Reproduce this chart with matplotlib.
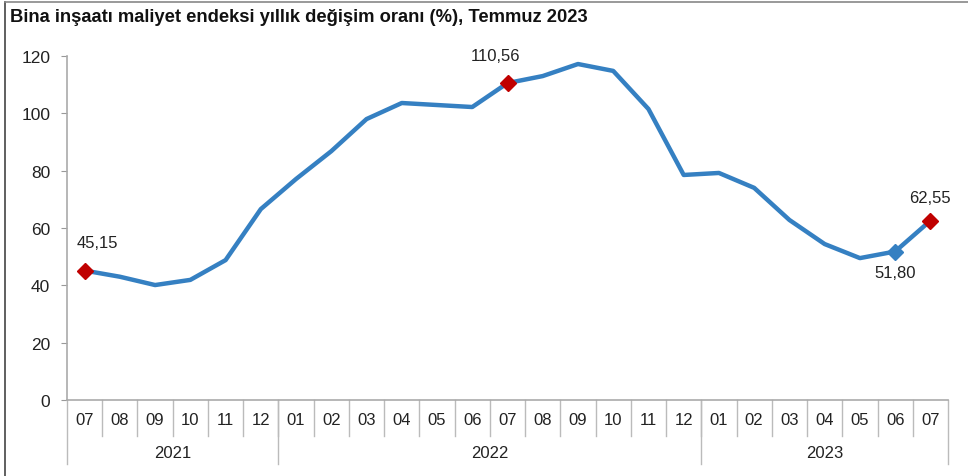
import numpy as np
import matplotlib.pyplot as plt
import matplotlib
import matplotlib.transforms as mtransforms

matplotlib.rc('font', family='Liberation Sans')

# Data
months = ['07', '08', '09', '10', '11', '12',
          '01', '02', '03', '04', '05', '06', '07', '08', '09', '10', '11', '12',
          '01', '02', '03', '04', '05', '06', '07']
years = ['2021', '2022', '2023']
year_counts = [6, 12, 7]
values = [45.15, 43.0, 40.1, 41.9, 48.8, 66.6,
          77.1, 86.8, 98.0, 103.6, 102.9, 102.2, 110.56, 113.0, 117.2, 114.8, 101.5, 78.5,
          79.2, 74.0, 62.8, 54.4, 49.5, 51.80, 62.55]
red_idx = [0, 12, 24]
blue_idx = [23]
label_text = {0: '45,15', 12: '110,56', 23: '51,80', 24: '62,55'}
label_off = {0: (9, 20), 12: (-9, 20), 23: (0, -15), 24: (0, 17)}

fig = plt.figure(figsize=(9.68, 4.77), dpi=100)
W, H = 968, 477
ax = fig.add_axes([67 / W, 1 - 401 / H, (948 - 67) / W, (401 - 57) / H])

x = np.arange(len(values))
line_col = '#3580c2'
ax.plot(x, values, color=line_col, lw=3.2, solid_joinstyle='round', zorder=2)
ax.plot(x[red_idx], [values[i] for i in red_idx], 'D', color='#c00000',
        ms=8, zorder=3)
ax.plot(x[blue_idx], [values[i] for i in blue_idx], 'D', color=line_col,
        ms=8, zorder=3)
for i, t in label_text.items():
    dx, dy = label_off[i]
    ax.annotate(t, (x[i], values[i]), xytext=(dx, dy), textcoords='offset points',
                ha='center', va='center', fontsize=12, color='#222222')

ax.set_xlim(-0.5, len(values) - 0.5)
ax.set_ylim(0, 120)
ax.set_yticks(range(0, 121, 20))
ax.tick_params(axis='y', length=4, color='#999999', labelsize=12.5,
               labelcolor='#222222', pad=8)
ax.set_xticks([])
for s in ['top', 'right']:
    ax.spines[s].set_visible(False)
for s in ['left', 'bottom']:
    ax.spines[s].set_color('#aaaaaa')
    ax.spines[s].set_linewidth(1.2)

# category axis: month labels, separators, year groups
trans = mtransforms.blended_transform_factory(ax.transData, ax.transAxes)
px = 1 / (401 - 57)
for i, m in enumerate(months):
    ax.text(i, -20 * px, m, transform=trans, ha='center', va='center',
            fontsize=12, color='#222222')
for i in range(1, len(months)):
    ax.plot([i - 0.5, i - 0.5], [0, -36 * px], transform=trans, color='#bbbbbb',
            lw=1, clip_on=False)
start = 0
bounds = [-0.5]
for yr, n in zip(years, year_counts):
    ax.text(start + (n - 1) / 2, -53 * px, yr, transform=trans, ha='center',
            va='center', fontsize=12, color='#222222')
    start += n
    bounds.append(start - 0.5)
for b in bounds:
    ax.plot([b, b], [0, -64 * px], transform=trans, color='#bbbbbb', lw=1,
            clip_on=False)

fig.text(10 / W, 1 - 18 / H, 'Bina inşaatı maliyet endeksi yıllık değişim oranı (%), Temmuz 2023',
         fontsize=13.2, fontweight='bold', color='#111111', va='center')

# outer frame
fig.add_artist(plt.Line2D([5 / W, 5 / W], [0, 1 - 3 / H], color='#444444', lw=1.2))
fig.add_artist(plt.Line2D([5 / W, 1], [1 - 3 / H, 1 - 3 / H], color='#888888', lw=1.2))

fig.savefig('out.png', dpi=100)
